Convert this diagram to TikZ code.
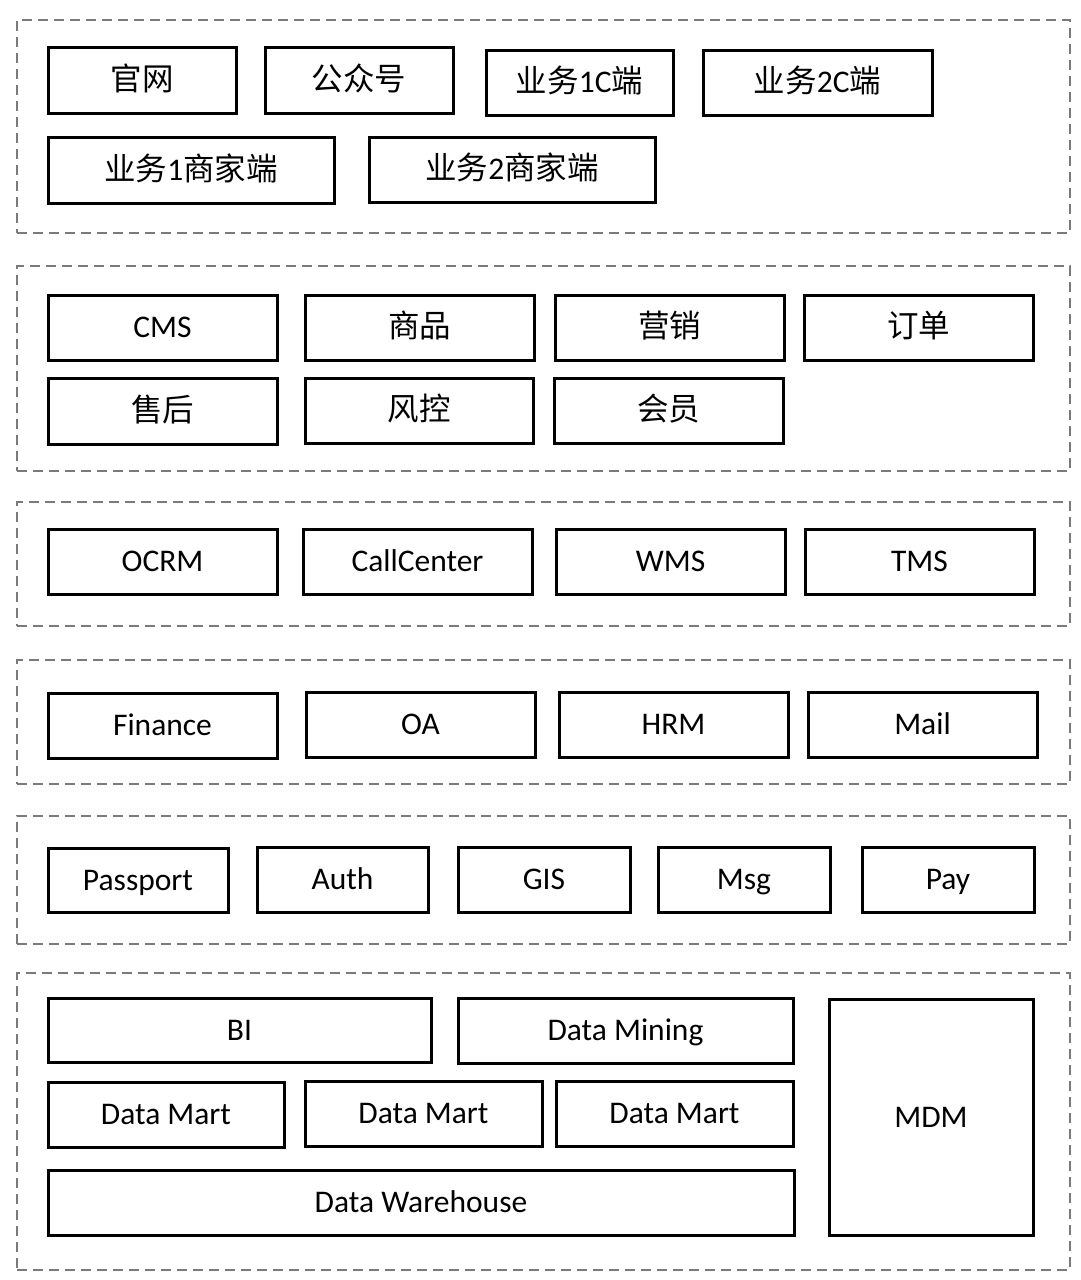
\documentclass[tikz,border=0pt]{standalone}
\usepackage{fontspec}
\setmainfont{Carlito}
\newfontfamily\cjk{Noto Sans CJK SC}
\tikzset{
  box/.style={draw=black, line width=3pt, fill=white, inner sep=0pt, font=\fontsize{31.5}{36}\selectfont, text height=25.2pt, text depth=4.9pt},
  grp/.style={draw=black!52, line width=2.4pt, dash pattern=on 10pt off 6pt, inner sep=0pt}
}
\newcommand\mybox[6]{\node[box, minimum width={(#4-#2)*1pt}, minimum height={(#5-#3)*1pt}] (#1) at ({(#2+#4)/2},{(#3+#5)/2}) {#6};}
\newcommand\mygrp[3]{\node[grp, minimum width=1053pt, minimum height={(#3-#2)*1pt}] (#1) at (543.5,{(#2+#3)/2}) {};}
\begin{document}
\begin{tikzpicture}[x=1pt,y=-1pt]
\useasboundingbox (0,0) rectangle (1080,1280);
% groups
\mygrp{g1}{20}{233}
\mygrp{g2}{266}{471}
\mygrp{g3}{502}{626}
\mygrp{g4}{660}{784}
\mygrp{g5}{816}{944}
\mygrp{g6}{973}{1270}
% group 1
\mybox{gw}{48}{47}{236}{113}{\cjk 官网}
\mybox{gzh}{265}{47}{453}{113}{\cjk 公众号}
\mybox{b1c}{486}{50}{673}{115}{{\cjk 业务}1C{\cjk 端}}
\mybox{b2c}{703}{50}{932}{115}{{\cjk 业务}2C{\cjk 端}}
\mybox{b1s}{48}{137}{334}{203}{{\cjk 业务}1{\cjk 商家端}}
\mybox{b2s}{369}{137}{655}{202}{{\cjk 业务}2{\cjk 商家端}}
% group 2
\mybox{cms}{48}{295}{277}{360}{CMS}
\mybox{sp}{305}{295}{534}{360}{\cjk 商品}
\mybox{yx}{555}{295}{784}{360}{\cjk 营销}
\mybox{dd}{804}{295}{1033}{360}{\cjk 订单}
\mybox{sh}{48}{378}{277}{444}{\cjk 售后}
\mybox{fk}{305}{378}{533}{443}{\cjk 风控}
\mybox{hy}{554}{378}{783}{443}{\cjk 会员}
% group 3
\mybox{ocrm}{48}{529}{277}{594}{OCRM}
\mybox{cc}{303}{529}{532}{594}{CallCenter}
\mybox{wms}{556}{529}{785}{594}{WMS}
\mybox{tms}{805}{529}{1034}{594}{TMS}
% group 4
\mybox{fin}{48}{693}{277}{758}{Finance}
\mybox{oa}{306}{692}{535}{757}{OA}
\mybox{hrm}{559}{692}{788}{757}{HRM}
\mybox{mail}{808}{692}{1037}{757}{Mail}
% group 5
\mybox{pp}{48}{848}{228}{912}{Passport}
\mybox{auth}{257}{847}{428}{912}{Auth}
\mybox{gis}{458}{847}{630}{912}{GIS}
\mybox{msg}{658}{847}{830}{912}{Msg}
\mybox{pay}{862}{847}{1034}{912}{Pay}
% group 6
\mybox{bi}{48}{998}{431}{1062}{BI}
\mybox{dm}{458}{998}{793}{1063}{Data Mining}
\mybox{mart1}{48}{1082}{284}{1147}{Data Mart}
\mybox{mart2}{305}{1081}{542}{1146}{Data Mart}
\mybox{mart3}{556}{1081}{793}{1146}{Data Mart}
\mybox{dw}{48}{1170}{794}{1235}{Data Warehouse}
\mybox{mdm}{829}{999}{1033}{1235}{MDM}
\end{tikzpicture}
\end{document}
